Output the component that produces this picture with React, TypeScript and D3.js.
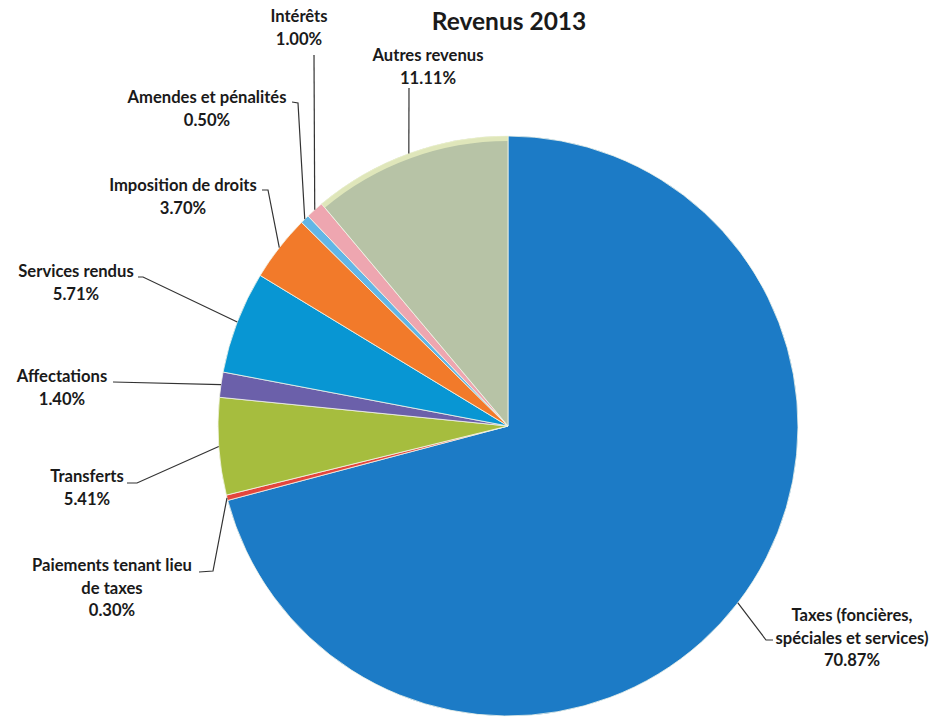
import React from "react";
import * as d3 from "d3";

const categories = [
  "Taxes (foncières, spéciales et services)",
  "Paiements tenant lieu de taxes",
  "Transferts",
  "Affectations",
  "Services rendus",
  "Imposition de droits",
  "Amendes et pénalités",
  "Intérêts",
  "Autres revenus",
];
const values = [70.87, 0.3, 5.41, 1.4, 5.71, 3.7, 0.5, 1.0, 11.11];
const labelLines = [
  ["Taxes (foncières,", "spéciales et services)", "70.87%"],
  ["Paiements tenant lieu", "de taxes", "0.30%"],
  ["Transferts", "5.41%"],
  ["Affectations", "1.40%"],
  ["Services rendus", "5.71%"],
  ["Imposition de droits", "3.70%"],
  ["Amendes et pénalités", "0.50%"],
  ["Intérêts", "1.00%"],
  ["Autres revenus", "11.11%"],
];
const colors = [
  "#1c7bc6",
  "#e4463c",
  "#a6bd3e",
  "#6b60aa",
  "#0896d3",
  "#f27a2a",
  "#62b6e6",
  "#eea6b0",
  "#b7c3a6",
];

// layout: label text center x, first line y, leader points (after arc point)
const labelLayout = [
  { x: 852, y: 617, pts: [[766, 640], [773, 640]] },
  { x: 112, y: 567, pts: [[213, 571], [199, 572]] },
  { x: 87, y: 478, pts: [[137, 483], [127, 483]] },
  { x: 62, y: 378, pts: [[113, 382]] },
  { x: 76, y: 273, pts: [[143, 277], [138, 277]] },
  { x: 183, y: 187, pts: [[268, 190], [262, 190]] },
  { x: 207, y: 99, pts: [[298, 103], [292, 102]] },
  { x: 299, y: 18, pts: [[314, 55]] },
  { x: 428, y: 57, pts: [[409, 88]] },
];

const W = 935;
const H = 721;
const cx = 508;
const cy = 426;
const R = 290;

export default function App() {
  const pie = d3
    .pie<number>()
    .sort(null)
    .value((d) => d)(values);
  const arc = d3.arc<d3.PieArcDatum<number>>().innerRadius(0).outerRadius(R);
  const rimArc = d3
    .arc<d3.PieArcDatum<number>>()
    .innerRadius(R - 5)
    .outerRadius(R);
  const font = "Lato, 'Open Sans', sans-serif";
  return (
    <svg width={W} height={H} style={{ position: "absolute", left: 0, top: 0 }}>
      <rect width={W} height={H} fill="#ffffff" />
      <text
        x={509}
        y={24}
        textAnchor="middle"
        dominantBaseline="middle"
        fontFamily={font}
        fontWeight="bold"
        fontSize={24.5}
        fill="#1a1a1a"
      >
        Revenus 2013
      </text>
      <g transform={`translate(${cx},${cy})`}>
        {pie.map((p, i) => (
          <path
            key={categories[i]}
            d={arc(p) || ""}
            fill={colors[i]}
            stroke="#f4f6ea"
            strokeWidth={0.8}
          />
        ))}
        <path d={rimArc(pie[8]) || ""} fill="#e9efbf" opacity={0.8} />
      </g>
      {pie.map((p, i) => {
        const a = (p.startAngle + p.endAngle) / 2;
        const ax = cx + R * Math.sin(a);
        const ay = cy - R * Math.cos(a);
        const L = labelLayout[i];
        const pts = [[ax, ay], ...L.pts];
        const d = d3.line()(pts as [number, number][]) || "";
        return (
          <g key={"l" + i}>
            <path d={d} fill="none" stroke="#333" strokeWidth={1.2} />
            {labelLines[i].map((t, j) => (
              <text
                key={j}
                x={L.x}
                y={L.y + j * 22.5}
                textAnchor="middle"
                dominantBaseline="middle"
                fontFamily={font}
                fontWeight="bold"
                fontSize={16.6}
                fill="#1a1a1a"
              >
                {t}
              </text>
            ))}
          </g>
        );
      })}
    </svg>
  );
}
